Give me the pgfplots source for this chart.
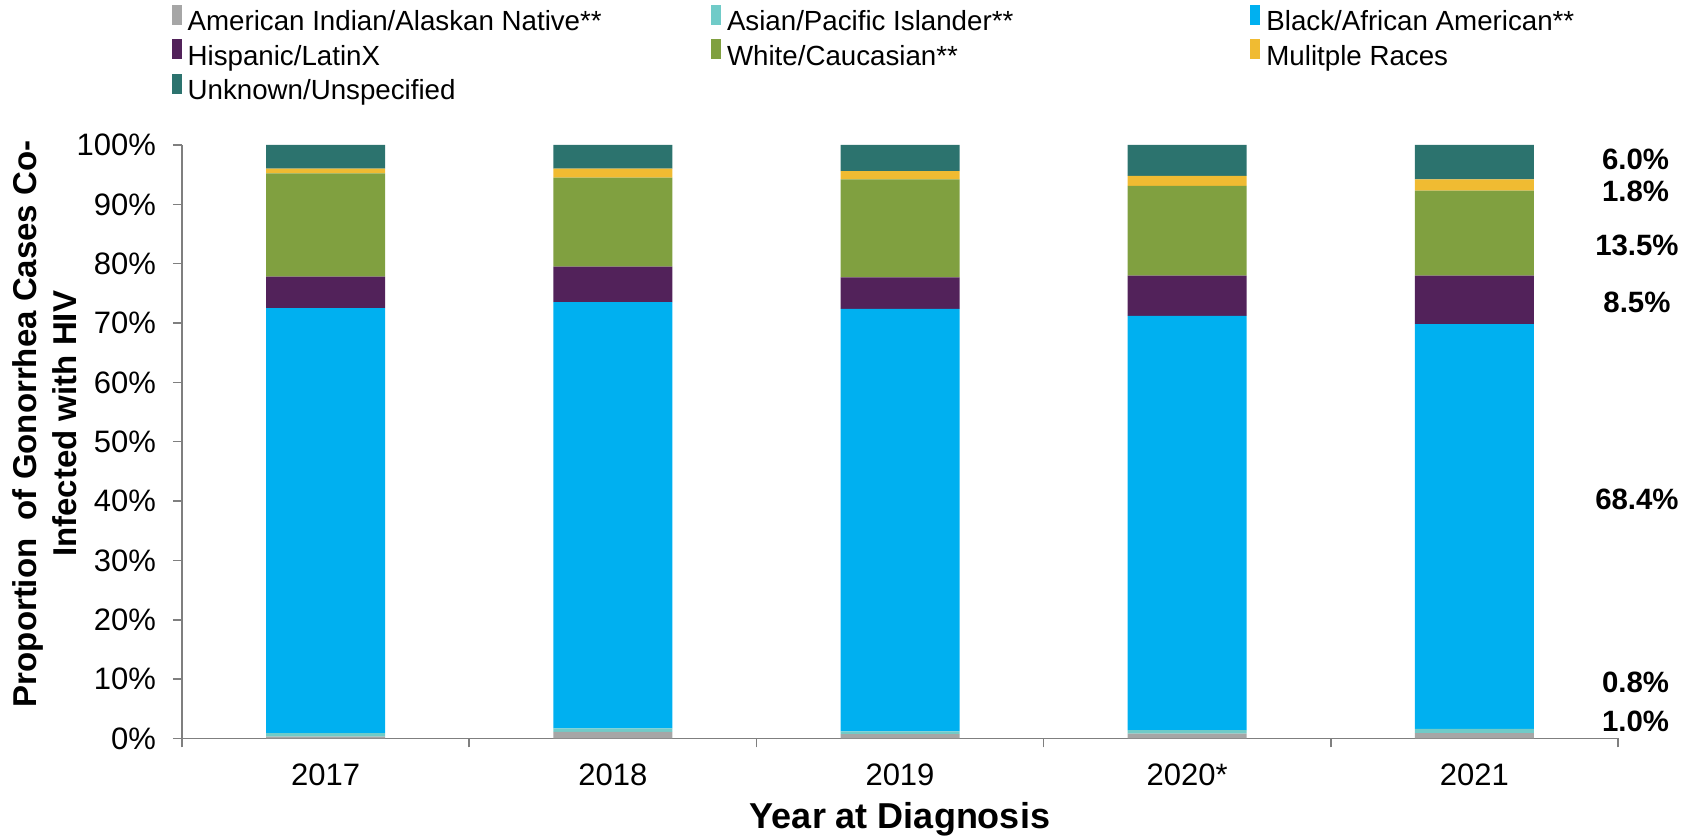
\documentclass[border=0pt]{standalone}
\usepackage{fontspec}
\setmainfont{Liberation Sans}
\usepackage{pgfplots}
\usepackage{pgfplotstable}
\pgfplotsset{compat=1.18}

\definecolor{cAI}{HTML}{A6A6A6}
\definecolor{cAsian}{HTML}{70CBC8}
\definecolor{cBlack}{HTML}{00B0F0}
\definecolor{cHisp}{HTML}{52225A}
\definecolor{cWhite}{HTML}{80A040}
\definecolor{cMult}{HTML}{F0BB32}
\definecolor{cUnk}{HTML}{2C736E}
\definecolor{axgray}{HTML}{7F7F7F}

% share of cases (%) by race, years 2017..2021 at x = 0..4
\pgfplotstableread{
x ai asian black hisp white mult unk
0 0.3 0.6 71.6 5.3 17.4 0.8 4.0
1 1.1 0.6 71.8 6.0 15.0 1.5 4.0
2 0.7 0.5 71.2 5.3 16.5 1.4 4.4
3 0.8 0.6 69.8 6.8 15.1 1.7 5.2
4 0.9 0.7 68.2 8.2 14.3 1.9 5.8
}\datatable

\newcommand{\legtext}[1]{\makebox[264.7bp][l]{\hspace{3bp}#1}}
\tikzset{rlab/.style={font=\fontsize{14.7bp}{17bp}\selectfont\bfseries}}

\begin{document}
\begin{tikzpicture}
\path[use as bounding box] (0,0) rectangle (841.5bp,418bp);
\begin{axis}[
    at={(91bp,48.8bp)}, anchor=south west,
    scale only axis, width=718bp, height=296.7bp,
    ybar stacked, bar width=59.5bp,
    xmin=-0.5, xmax=4.5, ymin=0, ymax=100,
    clip=false,
    axis x line*=bottom, axis y line*=left,
    axis line style={axgray, line width=0.8bp},
    tick style={axgray, line width=0.8bp},
    tick align=outside,
    xtick={0,...,4},
    xticklabels={2017,2018,2019,2020*,2021},
    major x tick style={draw=none},
    minor xtick={-0.5,0.5,...,4.5},
    minor tick length=4.5bp,
    ytick={0,10,...,100},
    yticklabels={0\%,10\%,20\%,30\%,40\%,50\%,60\%,70\%,80\%,90\%,100\%},
    major tick length=4.5bp,
    tick label style={font=\fontsize{15.5bp}{18bp}\selectfont},
    xticklabel style={anchor=base, yshift=-19bp},
    yticklabel style={xshift=-5bp},
    xlabel={Year at Diagnosis},
    xlabel style={font=\fontsize{18bp}{21bp}\selectfont\bfseries,
        at={(axis description cs:0.5,-0.151)}, anchor=base},
    ylabel={Proportion\ \ of Gonorrhea Cases Co-\\Infected with HIV},
    ylabel style={font=\fontsize{16.5bp}{20bp}\selectfont\bfseries, align=center,
        at={(axis description cs:-0.0954,0.53)}, anchor=center},
    legend columns=3,
    legend style={at={(axis description cs:-0.0075,1.2366)}, anchor=north west,
        draw=none, fill=none, inner sep=0pt, row sep=1.2bp,
        nodes={inner sep=0pt, text height=10bp, text depth=3bp},
        font=\fontsize{13.85bp}{16bp}\selectfont},
    legend image code/.code={\fill[#1] (0bp,-0.5bp) rectangle (5bp,9.5bp);},
]
\addplot[fill=cAI, draw=none] table[x=x, y=ai] {\datatable};
\addlegendentry{\legtext{American Indian/Alaskan Native**}}
\addplot[fill=cAsian, draw=none] table[x=x, y=asian] {\datatable};
\addlegendentry{\legtext{Asian/Pacific Islander**}}
\addplot[fill=cBlack, draw=none] table[x=x, y=black] {\datatable};
\addlegendentry{\legtext{Black/African American**}}
\addplot[fill=cHisp, draw=none] table[x=x, y=hisp] {\datatable};
\addlegendentry{\legtext{Hispanic/LatinX}}
\addplot[fill=cWhite, draw=none] table[x=x, y=white] {\datatable};
\addlegendentry{\legtext{White/Caucasian**}}
\addplot[fill=cMult, draw=none] table[x=x, y=mult] {\datatable};
\addlegendentry{\legtext{Mulitple Races}}
\addplot[fill=cUnk, draw=none] table[x=x, y=unk] {\datatable};
\addlegendentry{\legtext{Unknown/Unspecified}}

\node[rlab] at (rel axis cs:1.0122,0.976) {6.0\%};
\node[rlab] at (rel axis cs:1.0122,0.921) {1.8\%};
\node[rlab] at (rel axis cs:1.0132,0.831) {13.5\%};
\node[rlab] at (rel axis cs:1.0132,0.734) {8.5\%};
\node[rlab] at (rel axis cs:1.0132,0.403) {68.4\%};
\node[rlab] at (rel axis cs:1.0122,0.095) {0.8\%};
\node[rlab] at (rel axis cs:1.0122,0.0295) {1.0\%};
\end{axis}
\end{tikzpicture}
\end{document}
